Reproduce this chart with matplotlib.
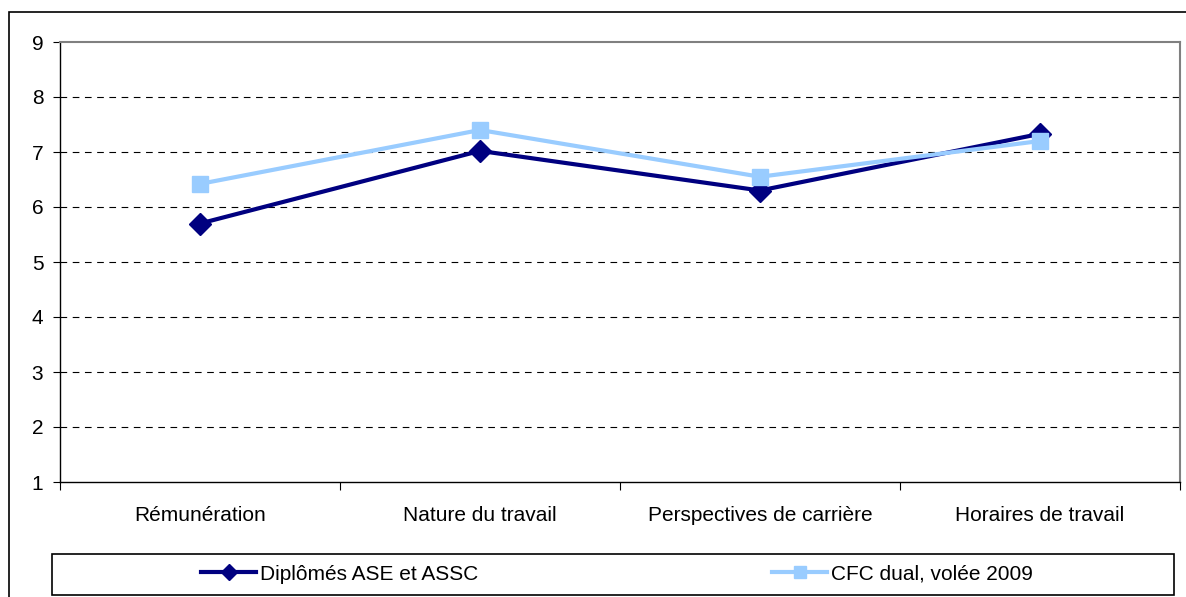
import matplotlib.pyplot as plt
from matplotlib.patches import Rectangle
from matplotlib.lines import Line2D

plt.rcParams['font.family'] = ['Liberation Sans', 'DejaVu Sans']

categories = ["Rémunération", "Nature du travail", "Perspectives de carrière", "Horaires de travail"]
diplomes = [5.7, 7.02, 6.3, 7.33]
cfc_dual = [6.42, 7.4, 6.55, 7.2]
series_names = ["Diplômés ASE et ASSC", "CFC dual, volée 2009"]
yticks = [1, 2, 3, 4, 5, 6, 7, 8, 9]

W, H = 1186, 597
FS = 15
fig = plt.figure(figsize=(W / 100, H / 100), dpi=100)

# outer chart border (runs off right/bottom edges in the reference)
fig.patches.append(Rectangle((9 / W, -0.05), 1.2, 1 - 12 / H + 0.05, transform=fig.transFigure,
                             fill=False, edgecolor="black", linewidth=1.2))

ax = fig.add_axes([60 / W, 1 - 482 / H, 1120 / W, 440 / H])
x = range(len(categories))
ax.plot(x, diplomes, color="#000080", linewidth=3, marker="D", markersize=11, zorder=3)
ax.plot(x, cfc_dual, color="#99CCFF", linewidth=3, marker="s", markersize=11.5, zorder=4)

ax.set_xlim(-0.5, len(categories) - 0.5)
ax.set_ylim(1, 9)
ax.set_yticks(yticks)
ax.set_yticklabels([str(v) for v in yticks], fontsize=FS)
ax.set_xticks([i - 0.5 for i in range(len(categories) + 1)], minor=False)
ax.set_xticklabels([])
ax.set_xticks(list(x), minor=True)
ax.set_xticklabels(categories, minor=True, fontsize=FS)
ax.tick_params(axis="x", which="minor", length=0, pad=17)
ax.tick_params(axis="x", which="major", length=6, direction="out")
ax.tick_params(axis="y", length=5, direction="out", pad=7)

for v in yticks[1:-1]:
    ax.axhline(v, color="black", linestyle=(0, (6, 5)), linewidth=0.8, zorder=1)

for side in ("top", "right"):
    ax.spines[side].set_color("#808080")
    ax.spines[side].set_linewidth(1.5)
for side in ("left", "bottom"):
    ax.spines[side].set_color("black")
    ax.spines[side].set_linewidth(1)

# legend box
fig.patches.append(Rectangle((52 / W, 1 - 595 / H), 1122 / W, 41 / H, transform=fig.transFigure,
                             fill=False, edgecolor="black", linewidth=1.2))
handles = [Line2D([], [], color="#000080", linewidth=3, marker="D", markersize=8),
           Line2D([], [], color="#99CCFF", linewidth=3, marker="s", markersize=8)]
leg_x = [201, 772]
for h, name, lx in zip(handles, series_names, leg_x):
    fig.legend([h], [name], loc="center left", bbox_to_anchor=(lx / W, 1 - 574 / H),
               frameon=False, fontsize=FS, handlelength=2.65, handletextpad=0.2,
               borderpad=0, borderaxespad=0)

fig.savefig("out.png", dpi=100)
